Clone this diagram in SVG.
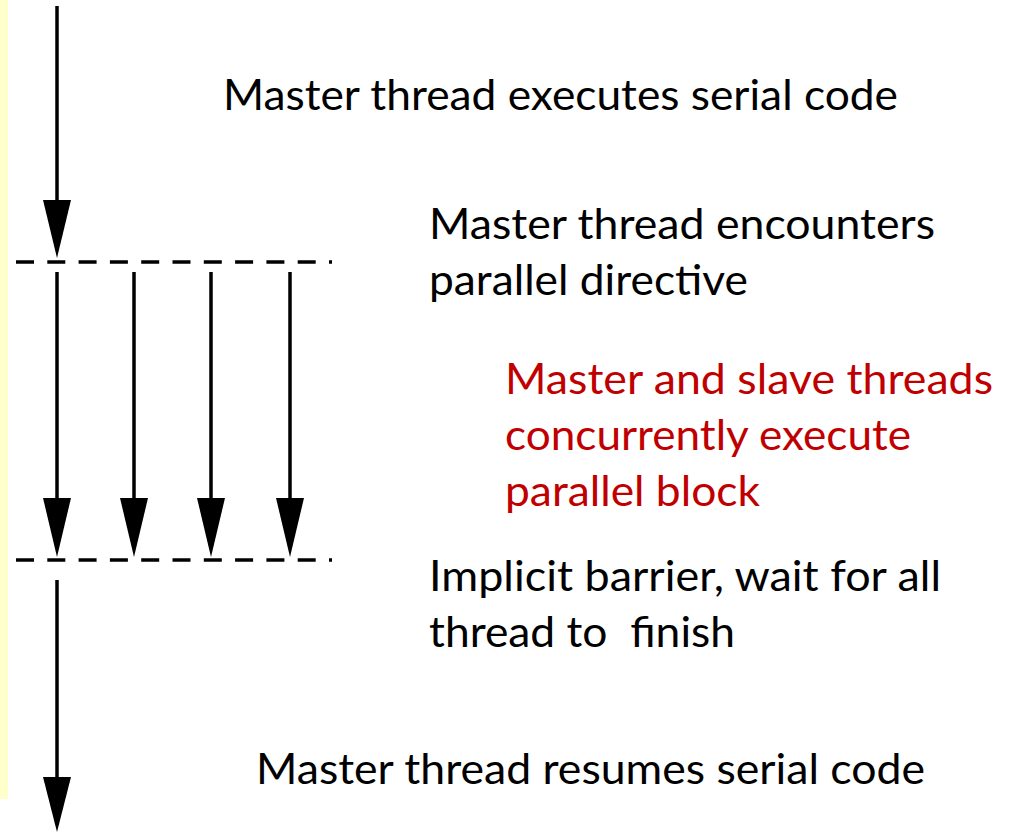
<svg xmlns="http://www.w3.org/2000/svg" width="1009" height="834" viewBox="0 0 1009 834">
  <style>
    .ln { stroke: #000; stroke-width: 3.5; fill: none; }
    .dash { stroke: #000; stroke-width: 3.5; stroke-dasharray: 18 13.3; fill: none; }
    .head { fill: #000; }
    .t { font-family: Lato, "Open Sans", "Liberation Sans", sans-serif; font-size: 43px; fill: #000; white-space: pre; }
    .red { fill: #C00000; }
  </style>
  <rect x="0" y="0" width="8" height="799" fill="#FFFFCC"/>
  <g id="connectors">
    <line class="ln" x1="57" y1="6" x2="57" y2="202"/>
    <polygon class="head" points="43,200 71,200 57,258"/>
    <line class="dash" x1="16" y1="262" x2="332" y2="262"/>
    <line class="ln" x1="57" y1="272" x2="57" y2="500"/>
    <polygon class="head" points="43,498 71,498 57,557"/>
    <line class="ln" x1="134" y1="272" x2="134" y2="500"/>
    <polygon class="head" points="120,498 148,498 134,557"/>
    <line class="ln" x1="211" y1="272" x2="211" y2="500"/>
    <polygon class="head" points="197,498 225,498 211,557"/>
    <line class="ln" x1="290" y1="272" x2="290" y2="500"/>
    <polygon class="head" points="276,498 304,498 290,557"/>
    <line class="dash" x1="16" y1="560" x2="332" y2="560"/>
    <line class="ln" x1="57" y1="580" x2="57" y2="779"/>
    <polygon class="head" points="43,777 71,777 57,832"/>
  </g>
  <g id="serial">
    <text class="t" x="223" y="110" textLength="675" lengthAdjust="spacingAndGlyphs">Master thread executes serial code</text>
  </g>
  <g id="encounter">
    <text class="t" x="429" y="239" textLength="506" lengthAdjust="spacingAndGlyphs">Master thread encounters</text>
    <text class="t" x="429" y="295" textLength="319" lengthAdjust="spacingAndGlyphs">parallel directive</text>
  </g>
  <g id="parallel">
    <text class="t red" x="505" y="394" textLength="488" lengthAdjust="spacingAndGlyphs">Master and slave threads</text>
    <text class="t red" x="505" y="450" textLength="406" lengthAdjust="spacingAndGlyphs">concurrently execute</text>
    <text class="t red" x="505" y="506" textLength="255" lengthAdjust="spacingAndGlyphs">parallel block</text>
  </g>
  <g id="barrier">
    <text class="t" x="429" y="591" textLength="512" lengthAdjust="spacingAndGlyphs">Implicit barrier, wait for all</text>
    <text class="t" x="429" y="647" textLength="306" lengthAdjust="spacingAndGlyphs">thread to  finish</text>
  </g>
  <g id="resume">
    <text class="t" x="256" y="784" textLength="669" lengthAdjust="spacingAndGlyphs">Master thread resumes serial code</text>
  </g>
</svg>
